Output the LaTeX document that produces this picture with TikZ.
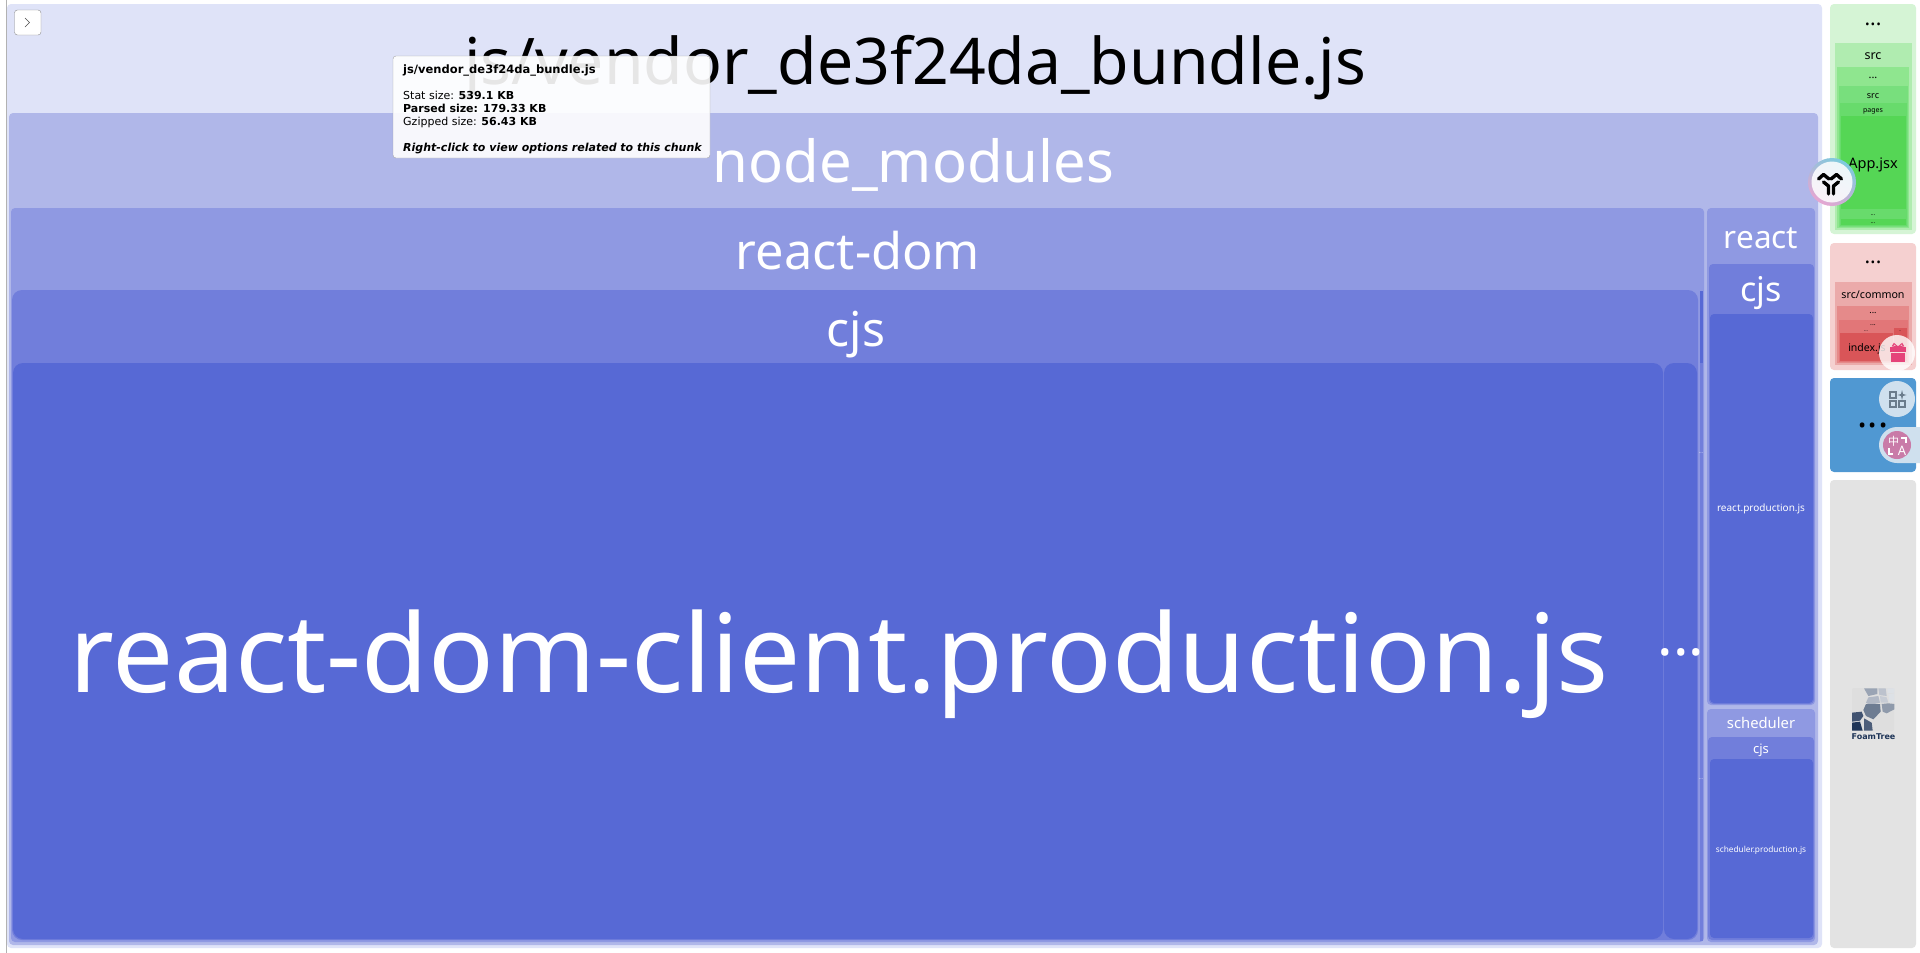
\documentclass[tikz,border=0pt]{standalone}
\usepackage{fontspec}
\setmainfont{Noto Sans}
\newfontfamily\tipfont{DejaVu Sans}
\newfontfamily\cjkfont{Noto Sans CJK SC}
\usetikzlibrary{positioning, shadings}

\definecolor{vendorA}{HTML}{DFE3F8}
\definecolor{vendorB}{HTML}{B0B7E9}
\definecolor{vendorC}{HTML}{8F99E2}
\definecolor{vendorD}{HTML}{717EDB}
\definecolor{vendorE}{HTML}{5769D5}
\definecolor{greenA}{HTML}{D5F4D5}
\definecolor{greenB}{HTML}{B0ECB0}
\definecolor{greenC}{HTML}{8FE68F}
\definecolor{greenD}{HTML}{78DF7D}
\definecolor{greenE}{HTML}{68DB6C}
\definecolor{greenF}{HTML}{55D655}
\definecolor{redA}{HTML}{F5D0D0}
\definecolor{redB}{HTML}{EBAAAA}
\definecolor{redC}{HTML}{E58A8A}
\definecolor{redD}{HTML}{E27678}
\definecolor{redE}{HTML}{D95558}
\definecolor{blueA}{HTML}{5098D2}
\definecolor{grayA}{HTML}{E3E3E3}
\definecolor{paleBtn}{HTML}{CFE0EE}
\definecolor{pinkBtn}{HTML}{C97BA8}
\definecolor{giftPink}{HTML}{E5447A}
\definecolor{iconGray}{HTML}{6B7C8C}
\definecolor{foamNavy}{HTML}{1F3558}
\definecolor{ringTeal}{HTML}{7CCBDD}
\definecolor{ringPink}{HTML}{E6A6D2}

\begin{document}
\begin{tikzpicture}[
        x=1pt, y=-1pt,
        tile/.style={rounded corners=4pt},
        bigtile/.style={rounded corners=10pt},
        lbl/.style={font=\fontsize{#1}{#1}\selectfont, inner sep=0pt, anchor=base, text=black},
        wlbl/.style={font=\fontsize{#1}{#1}\selectfont, inner sep=0pt, anchor=base, text=white},
        tipline/.style={font=\tipfont\fontsize{11}{11}\selectfont, inner sep=0pt, anchor=base west, text=black},
        pale/.style={fill=paleBtn},
        yicon/.style={line width=3.4pt, line cap=round, line join=round},
        transmark/.style={white, line width=1.2pt}
    ]
    \useasboundingbox (0,0) rectangle (1920,953);
    \fill[white] (0,0) rectangle (1920,953);
    \draw[black!30] (6,0) -- (6,953);

    % vendor bundle
    \fill[tile, vendorA] (7,4) rectangle (1822,948);
    \fill[tile, vendorB] (9,113) rectangle (1818,945);
    \fill[tile, vendorC] (11,208) rectangle (1704,942);
    \fill[bigtile, vendorD] (12,290) rectangle (1698,940);
    \fill[bigtile, vendorE] (13,363) rectangle (1663,939);
    \fill[bigtile, vendorE] (1664,363) rectangle (1697,939);
    \fill[vendorD] (1700,291) rectangle (1702.5,941);
    \fill[vendorE] (1700,291) rectangle (1702.5,363);
    \fill[tile, vendorC] (1707,208) rectangle (1815,705);
    \fill[tile, vendorD] (1709,264) rectangle (1814,704);
    \fill[tile, vendorE] (1710,314) rectangle (1813,703);
    \fill[tile, vendorC] (1707,709) rectangle (1815,942);
    \fill[tile, vendorD] (1708,737) rectangle (1814,940);
    \fill[tile, vendorE] (1710,759) rectangle (1813,938);

    \node[lbl=64.3] (bundle) at (915,84) {js/vendor\_de3f24da\_bundle.js};
    \node[wlbl=58] (modules) at (913.5,182) {node\_modules};
    \node[wlbl=50.5] (reactdom) at (858,269) {react-dom};
    \node[wlbl=48] (domcjs) at (856,346) {cjs};
    \node[wlbl=108.8] (domclient) at (839,692) {react-dom-client.production.js};
    \node[wlbl=58] (domrest) at (1681,655) {...};
    \node[wlbl=5] (sliver) at (1701,453) {...};
    \node[wlbl=5] (sliverb) at (1701,779) {...};
    \node[wlbl=31.5] (react) at (1761,248) {react};
    \node[wlbl=34] (reactcjs) at (1761,301) {cjs};
    \node[wlbl=10] (reactfile) at (1761,511) {react.production.js};
    \node[wlbl=14.8] (sched) at (1761,728) {scheduler};
    \node[wlbl=13] (schedcjs) at (1761,753) {cjs};
    \node[wlbl=8.3] (schedfile) at (1761,852) {scheduler.production.js};

    % app chunk
    \fill[tile, greenA] (1830,4) rectangle (1916,234);
    \fill[greenB] (1835,43) rectangle (1912,230);
    \fill[greenC] (1837,67) rectangle (1909,228);
    \fill[greenD] (1839,86) rectangle (1908,227);
    \fill[greenE] (1840,103) rectangle (1907,226);
    \fill[greenF] (1840.5,116) rectangle (1906,209);
    \fill[greenF] (1840.5,219) rectangle (1906,225);
    \node[lbl=21] (appdots) at (1873,25) {...};
    \node[lbl=12.5] (appsrc) at (1873,59) {src};
    \node[lbl=11] (appdotsb) at (1873,78) {...};
    \node[lbl=9] (appsrcb) at (1873,98) {src};
    \node[lbl=7] (apppages) at (1873,112) {pages};
    \node[lbl=14.5] (appjsx) at (1873,168) {App.jsx};
    \node[lbl=6] (appdotsc) at (1873,215) {...};
    \node[lbl=6] (appdotsd) at (1873,223) {...};

    % common chunk
    \fill[tile, redA] (1830,243) rectangle (1916,370);
    \fill[redB] (1835,282) rectangle (1912,365);
    \fill[redC] (1837,306) rectangle (1909,363);
    \fill[redD] (1839,320) rectangle (1908,362);
    \fill[redE] (1840,333) rectangle (1893,361);
    \fill[redE] (1894,328) rectangle (1907,361);
    \node[lbl=21] (commondots) at (1873,263) {...};
    \node[lbl=10.7] (commonsrc) at (1873,298) {src/common};
    \node[lbl=9] (commondotsb) at (1873,313) {...};
    \node[lbl=7] (commondotsc) at (1873,325) {...};
    \node[lbl=5] (commondotsd) at (1866,331) {...};
    \node[lbl=4] (commondotse) at (1900,331) {..};
    \node[lbl=10.5] (commonindex) at (1867,351) {index.js};

    % third chunk
    \fill[tile, blueA] (1830,378) rectangle (1916,472);
    \node[lbl=38] (bluedots) at (1873,427) {...};

    % foamtree
    \fill[tile, grayA] (1830,480) rectangle (1916,948);
    \fill[rounded corners=2pt, fill=black!13] (1852,688) rectangle (1894,731);
    \begin{scope}[shift={(1840,680)}, x=0.3333pt, y=-0.3333pt]
        \fill[fill=foamNavy!45] (72,25) -- (112,25) -- (112,42) -- (85,48) -- cycle;
        \fill[fill=foamNavy!30] (115,25) -- (137,25) -- (140,48) -- (118,45) -- cycle;
        \fill[fill=foamNavy!15] (142,25) -- (163,25) -- (163,38) -- (142,40) -- cycle;
        \fill[fill=foamNavy!35] (85,52) -- (115,48) -- (120,68) -- (90,75) -- (78,68) -- cycle;
        \fill[fill=foamNavy!25] (120,48) -- (140,52) -- (145,68) -- (122,68) -- cycle;
        \fill[fill=foamNavy!15] (145,42) -- (163,40) -- (163,68) -- (148,68) -- cycle;
        \fill[fill=foamNavy!50] (125,72) -- (145,70) -- (163,72) -- (163,88) -- (140,100) -- (128,95) -- cycle;
        \fill[fill=foamNavy!65] (78,72) -- (120,72) -- (122,95) -- (100,118) -- (78,108) -- (70,90) -- cycle;
        \fill[fill=foamNavy!85] (36,98) -- (65,95) -- (70,108) -- (60,122) -- (36,125) -- cycle;
        \fill[fill=foamNavy] (36,128) -- (60,125) -- (68,152) -- (36,152) -- cycle;
        \fill[fill=foamNavy!80] (72,115) -- (95,128) -- (98,152) -- (72,152) -- cycle;
    \end{scope}
    \node[font=\tipfont\bfseries\fontsize{8}{8}\selectfont, inner sep=0pt, text=foamNavy] (foamtree) at (1873.5,737) {FoamTree};

    % tooltip
    \fill[rounded corners=3pt, white, opacity=0.9] (393,56) rectangle (710,158);
    \draw[rounded corners=3pt, black!35] (393,56) rectangle (710,158);
    \node[tipline, font=\tipfont\fontsize{11.5}{11.5}\selectfont] (tiptitle) at (403,73) {\bfseries js/vendor\_de3f24da\_bundle.js};
    \node[tipline] (tipstat) at (403,99) {Stat size: \textbf{539.1 KB}};
    \node[tipline] (tipparsed) at (403,112) {\textbf{Parsed size: 179.33 KB}};
    \node[tipline] (tipgzip) at (403,125) {Gzipped size: \textbf{56.43 KB}};
    \node[tipline] (tipright) at (403,151) {\bfseries\itshape Right-click to view options related to this chunk};

    % sidebar button
    \draw[rounded corners=3pt, fill=white, draw=black!45] (14.5,10) rectangle (41,35);
    \draw[black!70] (25,18) -- (29.5,22.5) -- (25,27);

    % floating badge
    \shade[top color=ringTeal, bottom color=ringPink, shading angle=-30] (1832,182) circle (24);
    \fill[white, opacity=0.85] (1832,182) circle (20.5);
    \draw[yicon] (1818.5,179) -- (1823.5,174.5) -- (1829,179);
    \draw[yicon] (1841.5,179) -- (1836.5,174.5) -- (1831,179);
    \draw[yicon] (1823.5,182) -- (1828.5,186) -- (1828.5,194);
    \draw[yicon] (1838.5,182) -- (1833.5,186) -- (1833.5,194);

    % gift button
    \fill[white, opacity=0.8] (1897,353) circle (18);
    \fill[giftPink] (1891,352.5) rectangle (1905,362);
    \fill[giftPink] (1890,347) rectangle (1906,351.5);
    \draw[giftPink, line width=1pt] (1898,347) -- (1894,343.5) -- (1892.5,346) -- (1898,347) -- (1902,343.5) -- (1903.5,346) -- cycle;

    % tool button
    \fill[pale] (1897,399) circle (18);
    \draw[iconGray, line width=1.2pt] (1890,392) rectangle (1896,398);
    \draw[iconGray, line width=1.2pt] (1890,401) rectangle (1896,407);
    \draw[iconGray, line width=1.2pt] (1899,401) rectangle (1905,407);
    \fill[iconGray] (1902,390) -- (1903,394) -- (1906.5,395) -- (1903,396) -- (1902,400) -- (1901,396) -- (1897.5,395) -- (1901,394) -- cycle;

    % translate button
    \fill[pale] (1920,427) -- (1897,427) arc (270:90:18) -- (1920,463) -- cycle;
    \fill[pinkBtn] (1897,445) circle (14);
    \node[font=\cjkfont\fontsize{11}{11}\selectfont, inner sep=0pt, text=white] (transzh) at (1893.5,441.5) {中};
    \node[font=\bfseries\fontsize{13}{13}\selectfont, inner sep=0pt, text=white] (transen) at (1902,451) {A};
    \draw[transmark] (1901,438) -- (1906,438) -- (1906,443);
    \draw[transmark] (1889,448) -- (1889,454) -- (1893,454);
\end{tikzpicture}
\end{document}
